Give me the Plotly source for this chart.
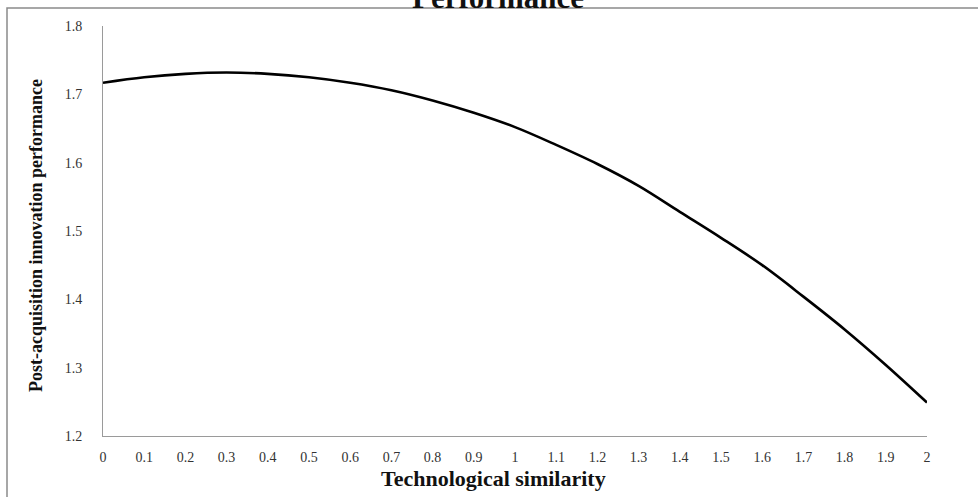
import plotly.graph_objects as go

similarity = [0, 0.1, 0.2, 0.3, 0.4, 0.5, 0.6, 0.7, 0.8, 0.9, 1.0,
              1.1, 1.2, 1.3, 1.4, 1.5, 1.6, 1.7, 1.8, 1.9, 2.0]
performance = [1.717, 1.725, 1.730, 1.732, 1.730, 1.725, 1.717, 1.706, 1.691, 1.673, 1.652,
               1.626, 1.598, 1.566, 1.528, 1.490, 1.450, 1.404, 1.356, 1.304, 1.249]
x_tick_vals = similarity
x_tick_text = ["0", "0.1", "0.2", "0.3", "0.4", "0.5", "0.6", "0.7", "0.8", "0.9", "1",
               "1.1", "1.2", "1.3", "1.4", "1.5", "1.6", "1.7", "1.8", "1.9", "2"]
y_tick_vals = [1.2, 1.3, 1.4, 1.5, 1.6, 1.7, 1.8]
y_tick_text = ["1.2", "1.3", "1.4", "1.5", "1.6", "1.7", "1.8"]

W, H = 978, 497
ml, mr, mt, mb = 103, 51, 26, 61
pw, ph = W - ml - mr, H - mt - mb

def px_x(p):
    return (p - ml) / pw

def px_y(p):
    return (H - mb - p) / ph

fig = go.Figure()
fig.add_trace(go.Scatter(
    x=similarity, y=performance, mode="lines",
    line=dict(color="black", width=2.6, shape="spline"),
    hoverinfo="x+y", showlegend=False,
))

serif = "Liberation Serif, Times New Roman, serif"

fig.update_layout(
    width=W, height=H,
    margin=dict(l=ml, r=mr, t=mt, b=mb, pad=0, autoexpand=False),
    paper_bgcolor="white", plot_bgcolor="white",
    font=dict(family=serif, color="#222"),
    xaxis=dict(
        range=[0, 2], tickmode="array", tickvals=x_tick_vals, ticktext=x_tick_text,
        showgrid=False, zeroline=False, showline=True, linecolor="#9a9a9a", linewidth=1,
        ticks="", tickfont=dict(family=serif, size=14, color="#333"),
        ticklabelstandoff=8, automargin=False,
    ),
    yaxis=dict(
        range=[1.2, 1.8], tickmode="array", tickvals=y_tick_vals, ticktext=y_tick_text,
        showgrid=False, zeroline=False, showline=True, linecolor="#9a9a9a", linewidth=1,
        ticks="", tickfont=dict(family=serif, size=14, color="#333"),
        ticklabelstandoff=17, automargin=False,
    ),
    annotations=[
        dict(text="<b>Post-acquisition innovation performance</b>", textangle=-90,
             xref="paper", yref="paper", x=px_x(36), y=px_y(236),
             xanchor="center", yanchor="middle", showarrow=False,
             font=dict(family=serif, size=18, color="#111")),
        dict(text="<b>Technological similarity</b>",
             xref="paper", yref="paper", x=px_x(493), y=px_y(478),
             xanchor="center", yanchor="middle", showarrow=False,
             font=dict(family=serif, size=22, color="#111")),
        dict(text="<b>Performance</b>",
             xref="paper", yref="paper", x=px_x(498), y=px_y(17),
             xanchor="center", yanchor="bottom", showarrow=False,
             font=dict(family=serif, size=31, color="#111")),
    ],
    shapes=[
        dict(type="rect", xref="paper", yref="paper",
             x0=px_x(7), y0=px_y(520), x1=px_x(1000), y1=px_y(8),
             line=dict(color="#8a8a8a", width=1.5), layer="below"),
    ],
)

fig.write_html("out.html", config={"displayModeBar": False},
               post_script="document.body.style.margin='0';document.body.style.overflow='hidden';")
